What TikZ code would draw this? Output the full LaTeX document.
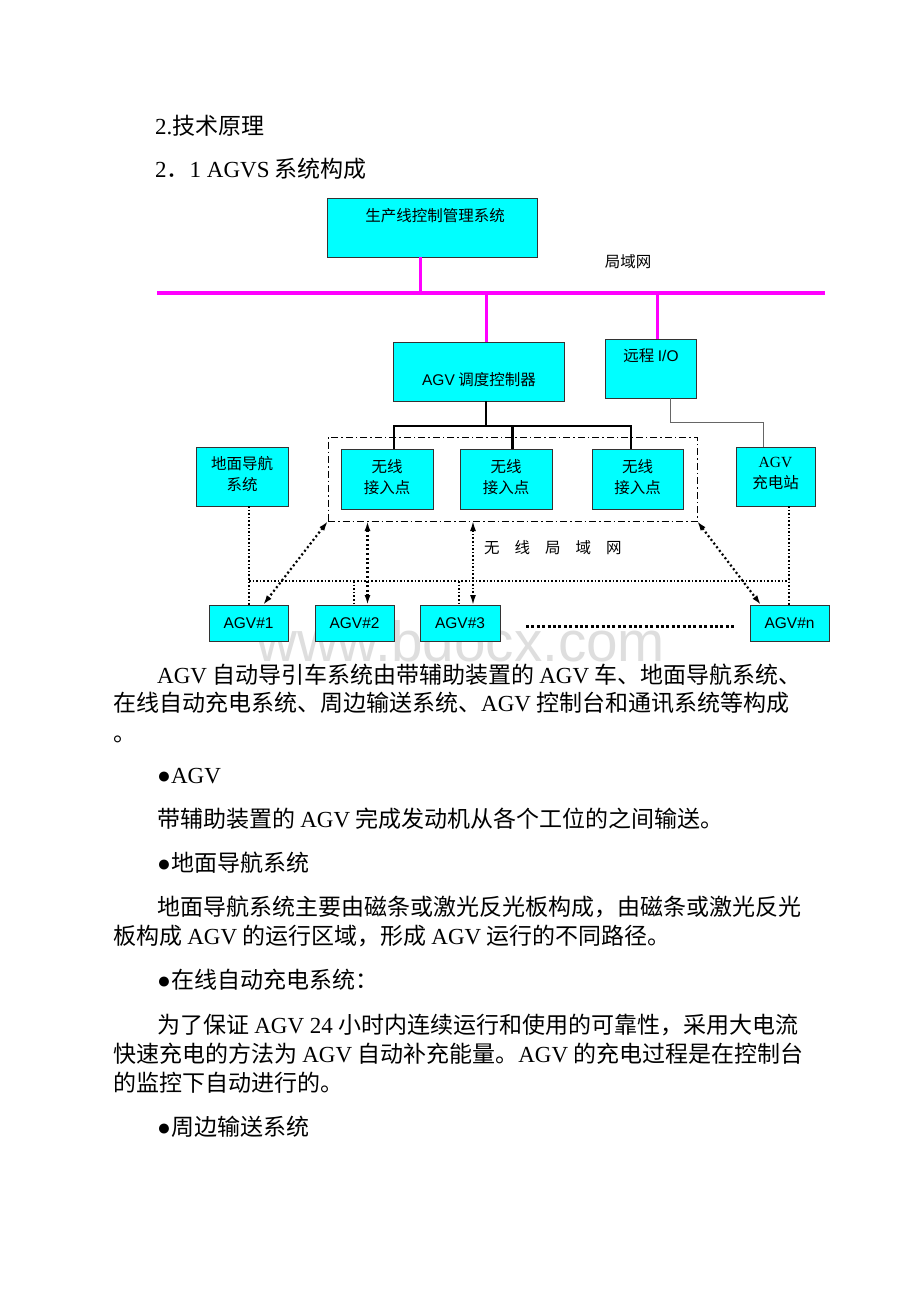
\documentclass[tikz,border=0pt]{standalone}
\usepackage{fontspec}
\setmainfont{Liberation Serif}
\newfontfamily\cjk{Noto Sans CJK SC}
\newfontfamily\arial{Liberation Sans}
\usetikzlibrary{arrows.meta,calc}
\definecolor{cyanc}{RGB}{0,255,255}
\definecolor{magc}{RGB}{255,0,255}
\definecolor{wmark}{RGB}{222,222,222}
\newcommand\lat[1]{{\rmfamily #1}}
\newcommand\sans[1]{{\arial #1}}
\begin{document}
\begin{tikzpicture}[x=1pt,y=-1pt,
  box/.style={draw=black!80, line width=1pt, fill=cyanc, inner sep=0pt, outer sep=0pt, anchor=north west},
  dlbl/.style={inner sep=0pt, align=center, font=\cjk\fontsize{15.5}{21}\selectfont},
  bodytxt/.style={anchor=base west, inner sep=0pt, font=\cjk\fontsize{23}{30}\selectfont},
  bus/.style={draw=magc, line width=4pt},
  vbus/.style={draw=magc, line width=3pt},
  tree/.style={draw=black, line width=2.2pt},
  gline/.style={draw=black!60, line width=1pt},
  dots/.style={draw=black, line width=1.6pt, dash pattern=on 1.6pt off 2pt},
  darr/.style={draw=black, line width=2.2pt, dash pattern=on 2pt off 2.6pt,
     {Latex[length=10pt,width=6pt]}-{Latex[length=10pt,width=6pt]}},
  wlanbox/.style={draw=black, line width=0.9pt, dash pattern=on 7pt off 3pt on 1.5pt off 3pt, inner sep=0pt, outer sep=0pt, anchor=north west}
]
\fill[white] (0,0) rectangle (920,1302);
\useasboundingbox (0,0) rectangle (920,1302);

% watermark
\node[anchor=base west, inner sep=0pt, text=wmark, font=\arial\fontsize{56.6}{60}\selectfont] (wm) at (256,661) {www.bdocx.com};

% headings
\node[bodytxt] (h1) at (155,134) {\lat{2.}技术原理};
\node[bodytxt] (h2) at (155,177) {\lat{2}．\lat{1 AGVS} 系统构成};

% boxes
\node[box, minimum width=210pt, minimum height=59pt] (prod) at (327,198) {};
\node[box, minimum width=171pt, minimum height=59pt] (sched) at (393,342) {};
\node[box, minimum width=91pt, minimum height=59pt] (rio) at (605,339) {};
\node[box, minimum width=92pt, minimum height=59pt] (nav) at (196,447) {};
\node[box, minimum width=92pt, minimum height=60pt] (ap1) at (341,449) {};
\node[box, minimum width=92pt, minimum height=60pt] (ap2) at (460,449) {};
\node[box, minimum width=91pt, minimum height=60pt] (ap3) at (592,449) {};
\node[box, minimum width=79pt, minimum height=59pt] (chg) at (736,447) {};
\node[box, minimum width=79pt, minimum height=36pt] (agv1) at (209,605) {};
\node[box, minimum width=79pt, minimum height=36pt] (agv2) at (315,605) {};
\node[box, minimum width=80pt, minimum height=36pt] (agv3) at (420,605) {};
\node[box, minimum width=79pt, minimum height=36pt] (agvn) at (750,605) {};
\node[wlanbox, minimum width=369pt, minimum height=84pt] (wlan) at (328,437) {};

% box texts
\node[dlbl] (prodt) at (435,216) {生产线控制管理系统};
\node[dlbl] (lan) at (628,262) {局域网};
\node[dlbl] (schedt) at (479,380) {\sans{AGV} 调度控制器};
\node[dlbl] (riot) at (651,356) {远程 \sans{I/O}};
\node[dlbl] (navt) at (242,474) {地面导航\\系统};
\node[dlbl] (ap1t) at (387,477) {无线\\接入点};
\node[dlbl] (ap2t) at (506,477) {无线\\接入点};
\node[dlbl] (ap3t) at (637.5,477) {无线\\接入点};
\node[dlbl] (chgt) at (775.5,473) {\lat{AGV}\\充电站};
\node[dlbl, font=\arial\fontsize{15.5}{18}\selectfont] (agv1t) at (agv1.center) {AGV\#1};
\node[dlbl, font=\arial\fontsize{15.5}{18}\selectfont] (agv2t) at (agv2.center) {AGV\#2};
\node[dlbl, font=\arial\fontsize{15.5}{18}\selectfont] (agv3t) at (agv3.center) {AGV\#3};
\node[dlbl, font=\arial\fontsize{15.5}{18}\selectfont] (agvnt) at (agvn.center) {AGV\#n};
\node[dlbl, anchor=west] (wlant) at (484,548) {无\hspace{15pt}线\hspace{15pt}局\hspace{15pt}域\hspace{15pt}网};

% magenta LAN
\coordinate (busL) at (157,293);
\coordinate (busR) at (825,293);
\draw[bus] (busL) -- (busR);
\coordinate (p1) at (420,293);
\coordinate (p2) at (486,293);
\coordinate (p3) at (657,293);
\draw[vbus] (p1 |- prod.south) -- (p1);
\draw[vbus] (p2) -- (p2 |- sched.north);
\draw[vbus] (p3) -- (p3 |- rio.north);

% controller tree
\coordinate (t0) at (486,426);
\coordinate (tl) at (394,426);
\coordinate (tm) at (512.5,426);
\coordinate (tr) at (631,426);
\draw[tree] (t0 |- sched.south) -- (t0);
\draw[tree, line cap=rect] (tl) -- (tr);
\draw[tree] (tl) -- (tl |- ap1.north);
\draw[tree] (tm) -- (tm |- ap2.north);
\draw[tree] (tr) -- (tr |- ap3.north);

% remote I/O to charger
\coordinate (g1) at (670,422);
\coordinate (g2) at (763,422);
\draw[gline] (g1 |- rio.south) -- (g1) -- (g2) -- (g2 |- chg.north);

% dotted guide network
\coordinate (d1) at (249,581);
\coordinate (d2) at (789,581);
\coordinate (d3) at (354,581);
\coordinate (d4) at (459,581);
\draw[dots] (d1 |- nav.south) -- (d1 |- agv1.north);
\draw[dots] (d1) -- (d2);
\draw[dots] (d2 |- chg.south) -- (d2 |- agvn.north);
\draw[dots] (d3) -- (d3 |- agv2.north);
\draw[dots] (d4) -- (d4 |- agv3.north);

% wireless arrows
\coordinate (a1) at (263,605);
\coordinate (a2) at (367.5,521);
\coordinate (a3) at (473,521);
\coordinate (a4) at (761,605);
\draw[darr] (wlan.south west) -- (a1 |- agv1.north);
\draw[darr] (a2 |- wlan.south) -- (a2 |- agv2.north);
\draw[darr, line width=1.6pt, dash pattern=on 1.6pt off 2pt] (a3 |- wlan.south) -- (a3 |- agv3.north);
\draw[darr] (wlan.south east) -- (a4 |- agvn.north);

% ellipsis between AGVs
\coordinate (e1) at (526,626);
\coordinate (e2) at (736,626);
\draw[line width=3pt, dash pattern=on 3pt off 2.4pt] (e1) -- (e2);

% body text
\node[bodytxt] (b1) at (157,683) {\lat{AGV} 自动导引车系统由带辅助装置的 \lat{AGV} 车、地面导航系统、};
\node[bodytxt] (b2) at (113,711) {在线自动充电系统、周边输送系统、\lat{AGV} 控制台和通讯系统等构成};
\node[bodytxt] (b3) at (113,741) {。};
\node[bodytxt] (b4) at (157,783) {\lat{●AGV}};
\node[bodytxt] (b5) at (157,827) {带辅助装置的 \lat{AGV} 完成发动机从各个工位的之间输送。};
\node[bodytxt] (b6) at (157,871) {\lat{●}地面导航系统};
\node[bodytxt] (b7) at (157,915) {地面导航系统主要由磁条或激光反光板构成，由磁条或激光反光};
\node[bodytxt] (b8) at (113,944) {板构成 \lat{AGV} 的运行区域，形成 \lat{AGV} 运行的不同路径。};
\node[bodytxt] (b9) at (157,988) {\lat{●}在线自动充电系统：};
\node[bodytxt] (b10) at (157,1033) {为了保证 \lat{AGV 24} 小时内连续运行和使用的可靠性，采用大电流};
\node[bodytxt] (b11) at (113,1062) {快速充电的方法为 \lat{AGV} 自动补充能量。\lat{AGV} 的充电过程是在控制台};
\node[bodytxt] (b12) at (113,1091) {的监控下自动进行的。};
\node[bodytxt] (b13) at (157,1135) {\lat{●}周边输送系统};
\end{tikzpicture}
\end{document}
